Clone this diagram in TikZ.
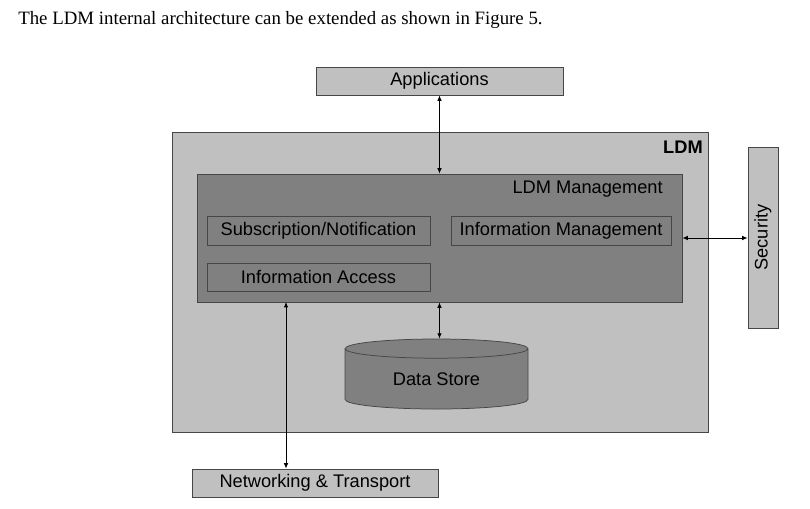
\documentclass[tikz,border=0pt]{standalone}
\usepackage{fontspec}
\setmainfont{Liberation Serif}
\newfontfamily\arial{Liberation Sans}
\usetikzlibrary{arrows.meta,positioning,shapes.geometric}
\definecolor{pale}{RGB}{192,192,192}
\definecolor{slate}{RGB}{128,128,128}
\definecolor{rim}{RGB}{70,70,70}
\tikzset{
  >={Latex[length=3.6pt,width=3pt]},
  x=0.0235cm,y=-0.0235cm,
  block/.style={draw=rim,fill=#1,line width=0.5pt,inner sep=0pt,
    font=\arial\fontsize{12.2}{14}\selectfont,align=center},
  block/.default=pale,
  link/.style={<->,line width=0.6pt,draw=black},
}
\begin{document}
\begin{tikzpicture}
  \useasboundingbox (0,0) rectangle (810,509);
  \node[anchor=base west,inner sep=0pt,font=\fontsize{12.6}{14}\selectfont] (caption) at (18,25)
    {The LDM internal architecture can be extended as shown in Figure 5.};
  % outer frame and management layer
  \node[block,minimum width={536*0.0235cm},minimum height={300*0.0235cm}] (ldm) at (440,282) {};
  \node[anchor=north east,inner sep=0pt,font=\arial\bfseries\fontsize{12.2}{14}\selectfont] (ldmtag) at (703,141) {LDM};
  \node[block=slate,minimum width={485*0.0235cm},minimum height={128*0.0235cm}] (mgmt) at (439.5,238) {};
  \node[anchor=east,inner sep=0pt,font=\arial\fontsize{12.2}{14}\selectfont] (mgmttag) at (663,189) {LDM Management};
  \node[block=slate,minimum width={223*0.0235cm},minimum height={29*0.0235cm}] (subs) at (318.5,230.5) {Subscription/Notification};
  \node[block=slate,minimum width={220*0.0235cm},minimum height={29*0.0235cm}] (info) at (561,230.5) {Information Management};
  \node[block=slate,minimum width={223*0.0235cm},minimum height={28*0.0235cm}] (access) at (318.5,277) {Information Access};
  \node[block=slate,cylinder,shape border rotate=90,aspect=0.22,minimum width={183*0.0235cm},
    minimum height={70*0.0235cm}] (store) at (436.5,379) {Data Store};
  % outside blocks
  \node[block,minimum width={247*0.0235cm},minimum height={28*0.0235cm}] (apps) at (439.5,81) {Applications};
  \node[block,minimum width={30*0.0235cm},minimum height={181*0.0235cm}] (sec) at (763,237.5) {\rotatebox{90}{Security}};
  \node[block,minimum width={246*0.0235cm},minimum height={28*0.0235cm}] (net) at (315,483) {Networking \& Transport};
  \coordinate (tap) at (286,302);
  \draw[link] (apps.south -| mgmt.north) -- (mgmt.north);
  \draw[link] (mgmt.east) -- (mgmt.east -| sec.west);
  \draw[link] (mgmt.south) -- (mgmt.south |- store.north);
  \draw[link] (tap) -- (tap |- net.north);
\end{tikzpicture}
\end{document}
